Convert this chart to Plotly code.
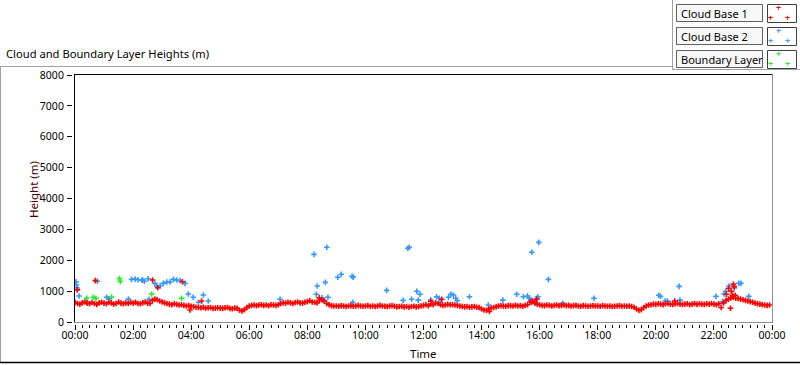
import plotly.graph_objects as go
from datetime import datetime, timedelta

# ---------------- data ----------------
BASE = datetime(2024, 1, 1)

# Cloud Base 1 (red) - 5-minute samples, one row per hour
red_values = [
    640, 600, 580, 620, 650, 610, 590, 630, 600, 570, 620, 640,
    610, 590, 640, 620, 580, 600, 650, 610, 590, 620, 600, 630,
    610, 640, 600, 590, 620, 650, 610, 600, 700, 740, 720, 680,
    650, 620, 600, 580, 560, 590, 570, 550, 560, 540, 520, 530,
    510, 500, 480, 470, 460, 480, 450, 460, 470, 440, 450, 460,
    450, 440, 460, 470, 440, 430, 450, 440, 380, 360, 400, 470,
    520, 540, 550, 530, 550, 560, 540, 550, 530, 560, 550, 540,
    560, 600, 620, 610, 640, 620, 600, 630, 650, 620, 610, 640,
    660, 690, 650, 640, 620, 700, 720, 680, 600, 560, 530, 520,
    520, 510, 530, 520, 500, 520, 530, 510, 520, 540, 520, 510,
    520, 530, 510, 520, 500, 520, 540, 520, 510, 500, 520, 530,
    510, 490, 500, 510, 490, 500, 480, 500, 510, 490, 500, 520,
    540, 560, 530, 580, 560, 620, 600, 560, 540, 550, 570, 560,
    560, 550, 540, 520, 500, 490, 500, 480, 490, 500, 480, 470,
    420, 390, 380, 420, 460, 470, 490, 520, 530, 520, 510, 530,
    530, 520, 540, 520, 530, 510, 540, 560, 650, 680, 620, 580,
    560, 540, 530, 550, 540, 520, 540, 550, 530, 540, 550, 530,
    540, 520, 530, 540, 520, 510, 530, 520, 510, 520, 530, 520,
    520, 510, 530, 520, 510, 520, 500, 510, 520, 530, 510, 520,
    510, 520, 500, 480, 420, 380, 400, 470, 520, 550, 560, 580,
    570, 590, 580, 560, 590, 600, 580, 570, 590, 600, 580, 570,
    580, 590, 560, 580, 600, 570, 590, 580, 570, 590, 580, 600,
    580, 560, 590, 470, 620, 700, 740, 780, 800, 770, 760, 740,
    720, 700, 680, 660, 640, 610, 590, 580, 560, 550, 540, 550,
]
red_step_minutes = 5

# Cloud Base 1 (red) - isolated points (hour of day, metres)
red_extra_hours = [0.08, 0.70, 2.67, 2.85, 3.70, 3.96, 4.36, 8.41, 12.25, 12.63,
                   14.27, 15.73, 15.90, 20.65, 22.43, 22.51, 22.57, 22.60, 22.64,
                   22.67, 22.70, 22.73]
red_extra_values = [1040, 1340, 1360, 1110, 1305, 390, 680, 780, 670, 735,
                    345, 650, 735, 680, 900, 1090, 445, 995, 865,
                    1220, 1145, 865]

# Cloud Base 2 (blue)
blue_hours = [0.03, 0.05, 0.08, 0.14, 0.40, 0.77, 1.09, 1.16, 1.84, 1.95, 2.07, 2.17,
              2.30, 2.33, 2.39, 2.52, 2.55, 2.75, 2.81, 2.93, 3.04, 3.16, 3.27, 3.39,
              3.50, 3.62, 3.79, 3.90, 4.07, 4.25, 4.42, 4.59, 7.06, 8.23, 8.31, 8.34,
              8.50, 8.55, 8.62, 8.67, 8.71, 9.05, 9.17, 9.54, 9.58, 9.56, 10.73, 11.30,
              11.46, 11.51, 11.59, 11.77, 11.82, 11.88, 12.25, 12.45, 12.54, 12.57, 12.86,
              12.94, 13.03, 13.11, 13.16, 13.58, 14.23, 14.73, 15.21, 15.44, 15.58, 15.64,
              15.69, 15.73, 15.76, 15.84, 15.90, 15.94, 15.97, 16.30, 16.79, 17.87, 20.10,
              20.16, 20.32, 20.40, 20.80, 20.83, 22.07, 22.30, 22.35, 22.41, 22.52, 22.70,
              22.86, 22.93, 23.20]
blue_values = [1300, 1200, 1100, 840, 660, 1320, 800, 750, 740, 1380, 1390, 1370,
               1350, 1360, 1320, 1400, 735, 1250, 1165, 1165, 1250, 1295, 1295, 1380,
               1360, 1340, 1250, 905, 800, 640, 875, 680, 735, 2190, 900, 1165,
               780, 710, 1285, 2420, 800, 1450, 1545, 1480, 1450, 640, 1025, 700,
               2390, 2420, 735, 995, 710, 900, 710, 820, 770, 625, 800,
               900, 875, 770, 690, 820, 550, 710, 900, 820, 840, 770,
               710, 2260, 660, 605, 770, 820, 2580, 1380, 605, 770, 865,
               830, 680, 680, 1155, 710, 830, 660, 905, 995, 1165, 1100,
               1250, 1250, 830]

# Boundary Layer (green)
green_hours = [0.40, 0.63, 0.72, 1.26, 1.53, 1.56, 2.64, 3.67]
green_values = [770, 800, 770, 810, 1410, 1310, 905, 770]

series_names = ["Cloud Base 1", "Cloud Base 2", "Boundary Layer"]
series_colors = ["#ff0000", "#3399ff", "#22ee22"]

y_ticks = [0, 1000, 2000, 3000, 4000, 5000, 6000, 7000, 8000]

# ---------------- helpers ----------------
def at(h):
    return BASE + timedelta(hours=h)

red_times = [BASE + timedelta(minutes=i * red_step_minutes) for i in range(len(red_values))]

W, H = 800, 365
ML, MR, MT, MB = 72, 28, 75, 41
PW, PH = W - ML - MR, H - MT - MB


def px(x):
    return (x - ML) / PW


def py(y):
    return (H - MB - y) / PH


FONT = "Noto Sans"

fig = go.Figure()

def add_series(xs, ys, color):
    fig.add_trace(go.Scatter(
        x=xs, y=ys, mode="markers", showlegend=False,
        marker=dict(symbol="cross-thin", size=4, color=color,
                    line=dict(color=color, width=1.6)),
        hoverinfo="skip"))

add_series([at(h) for h in blue_hours], blue_values, series_colors[1])
add_series([at(h) for h in green_hours], green_values, series_colors[2])
add_series(red_times, red_values, series_colors[0])
add_series([at(h) for h in red_extra_hours], red_extra_values, series_colors[0])

fig.update_layout(
    width=W, height=H,
    margin=dict(l=ML, r=MR, t=MT, b=MB, pad=0),
    paper_bgcolor="white", plot_bgcolor="white",
    font=dict(family=FONT, size=10.5, color="black"),
    hovermode=False,
    xaxis=dict(
        type="date", domain=[3 / PW, 1],
        range=[BASE, BASE + timedelta(hours=24)], autorange=False,
        anchor="free", position=0,
        tickformat="%H:%M", tick0=BASE, dtick=2 * 3600 * 1000,
        ticks="outside", ticklen=5, tickwidth=1, tickcolor="black",
        minor=dict(ticks="outside", ticklen=3, tickwidth=1, tickcolor="black",
                   dtick=15 * 60 * 1000, showgrid=False),
        showgrid=False, zeroline=False, showline=False,
        tickfont=dict(family=FONT, size=10.5, color="black"),
        ticklabelstandoff=-4,
    ),
    yaxis=dict(
        domain=[2 / PH, 1], range=[0, 8000], autorange=False,
        anchor="free", position=0,
        tickvals=y_ticks,
        ticks="outside", ticklen=5, tickwidth=1, tickcolor="black",
        showgrid=False, zeroline=False, showline=False,
        tickfont=dict(family=FONT, size=10.5, color="black"),
        ticklabelstandoff=1,
    ),
)

shapes = []
def line(x0, y0, x1, y1, color, w=1):
    shapes.append(dict(type="line", xref="paper", yref="paper",
                       x0=px(x0), y0=py(y0), x1=px(x1), y1=py(y1),
                       line=dict(color=color, width=w)))

def rect(x0, y0, x1, y1, border, fill):
    shapes.append(dict(type="rect", xref="paper", yref="paper",
                       x0=px(x0), y0=py(y0), x1=px(x1), y1=py(y1),
                       line=dict(color=border, width=1), fillcolor=fill, layer="above"))

# outer frame
line(0, 66.5, 672.5, 66.5, "#a0a0a0")
line(0.5, 66, 0.5, 363, "#a0a0a0")
line(0, 362.5, 800, 362.5, "#000000", 1.5)
line(672.5, 0, 672.5, 69, "#a0a0a0")
line(672, 69.5, 800, 69.5, "#a0a0a0")
# plot box
line(74.5, 74, 74.5, 322.5, "#000000")
line(74, 74.5, 773, 74.5, "#000000")
line(772.5, 74, 772.5, 322.5, "#909090")
line(74, 322.5, 773, 322.5, "#909090")

annotations = []
# legend
for i, (name, color) in enumerate(zip(series_names, series_colors)):
    top = 4.5 + 23 * i
    bot = 21.5 + 23 * i
    rect(676.5, top, 762.5, bot, "#606060", "#f8f8f8")
    rect(767.5, top, 796.5, bot + 1, "#404040", "#ffffff")
    annotations.append(dict(text=name, xref="paper", yref="paper",
                            x=px(678.5), y=py((top + bot) / 2), xanchor="left",
                            yanchor="middle", showarrow=False,
                            font=dict(family=FONT, size=11, color="black")))
    for (cx, cy) in [(778.5, top + 3), (770, top + 12.5), (787.5, top + 12.5)]:
        annotations.append(dict(text="<b>+</b>", xref="paper", yref="paper",
                                x=px(cx), y=py(cy), xanchor="center", yanchor="middle",
                                showarrow=False,
                                font=dict(family=FONT, size=9, color=color)))

# titles
annotations.append(dict(text="Cloud and Boundary Layer Heights (m)", xref="paper", yref="paper",
                        x=px(4), y=py(53), xanchor="left", yanchor="middle", showarrow=False,
                        font=dict(family=FONT, size=11.2, color="black")))
annotations.append(dict(text="Time", xref="paper", yref="paper",
                        x=px(423), y=py(353), xanchor="center", yanchor="middle",
                        showarrow=False, font=dict(family=FONT, size=11.5, color="#1a0000")))
annotations.append(dict(text="Height (m)", xref="paper", yref="paper",
                        x=px(33), y=py(190), xanchor="center", yanchor="middle",
                        textangle=-90, showarrow=False,
                        font=dict(family=FONT, size=11.5, color="#4a0000")))

fig.update_layout(shapes=shapes, annotations=annotations)

fig.write_html("out.html", config={"displayModeBar": False, "staticPlot": True},
               post_script="document.body.style.margin='0';document.body.style.overflow='hidden';")
